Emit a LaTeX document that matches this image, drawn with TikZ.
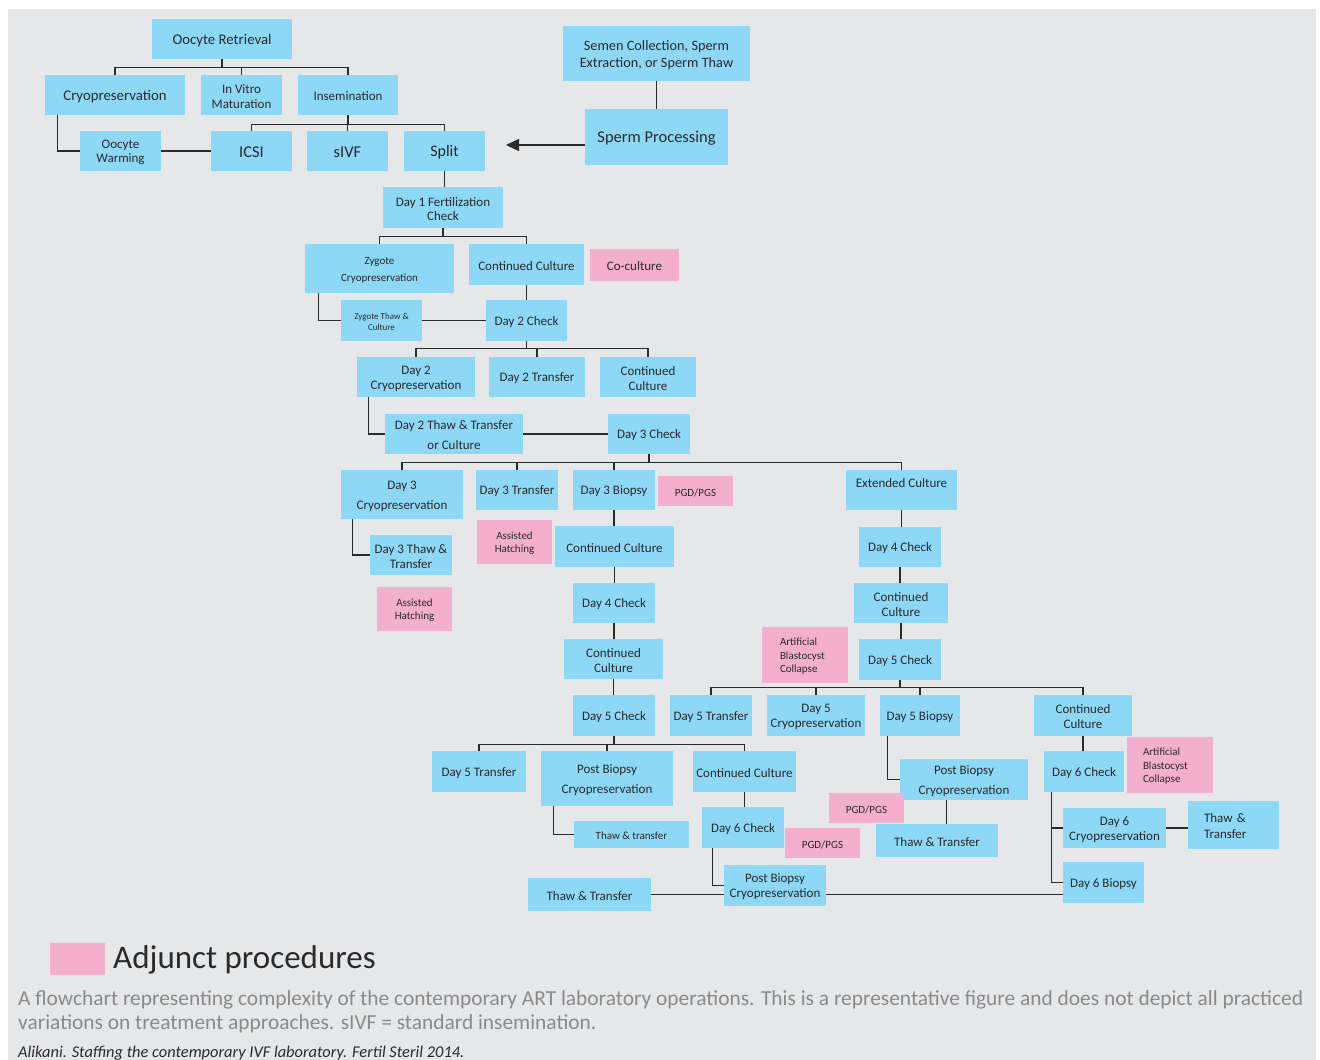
\documentclass[tikz,border=0pt]{standalone}
\usepackage{fontspec}
\setmainfont{Carlito}
\usetikzlibrary{calc,arrows.meta}
\definecolor{cblue}{HTML}{8DD7F7}
\definecolor{cpink}{HTML}{F4AECE}
\definecolor{cbg}{HTML}{E6E7E9}
\definecolor{cline}{HTML}{2B2B2B}
\definecolor{ctext}{HTML}{2A2A2A}
\definecolor{ccap}{HTML}{8A8A8A}
\newcommand\fs[2]{\fontsize{#1}{#2}\selectfont}
% #1 box style, #2 text options, #3 name, #4..#7 = x1,y1,x2,y2, #8 text
\newcommand\bx[8]{%
 \node[#1, minimum width={(#6-#4)*1pt}, minimum height={(#7-#5)*1pt}] (#3) at ({(#4+#6)/2},{(#5+#7)/2}) {};
 \node[btext, #2] (#3-t) at ({(#4+#6)/2},{(#5+#7)/2+1.5}) {#8};}
\tikzset{
 box/.style={fill=cblue, inner sep=0pt},
 pbox/.style={fill=cpink, inner sep=0pt},
 btext/.style={inner sep=0pt, align=center, text=ctext, font=\fs{13}{15}},
 small/.style={font=\fs{11}{13}},
 conn/.style={draw=cline, line width=1.3pt},
}
\begin{document}
\begin{tikzpicture}[x=1pt,y=-1pt]
\useasboundingbox (0,0) rectangle (1320,1060);
\fill[cbg] (8,9) rectangle (1316,1060);
% process boxes
\bx{box}{font=\fs{14.8}{17}}{ore}{152}{19}{292}{59}{Oocyte Retrieval}
\bx{box}{font=\fs{14.8}{17}}{cryo}{45}{75}{185}{115}{Cryopreservation}
\bx{box}{font=\fs{13}{14.5}}{ivm}{201}{75}{282}{115}{In Vitro\\Maturation}
\bx{box}{}{ins}{298}{75}{398}{115}{Insemination}
\bx{box}{font=\fs{13}{14.5}}{ow}{80}{131}{161}{171}{Oocyte\\Warming}
\bx{box}{font=\fs{16.5}{18}}{icsi}{211}{131}{292}{171}{ICSI}
\bx{box}{font=\fs{16.5}{18}}{sivf}{307}{131}{388}{171}{sIVF}
\bx{box}{font=\fs{16}{18}}{split}{404}{131}{485}{171}{Split}
\bx{box}{font=\fs{14.3}{16.5}}{semen}{563}{26}{750}{81}{Semen Collection, Sperm\\Extraction, or Sperm Thaw}
\bx{box}{font=\fs{16.5}{18}}{sp}{585}{109}{728}{165}{Sperm Processing}
\bx{box}{font=\fs{13}{14.5}}{d1}{383}{187}{503}{228}{Day 1 Fertilization\\Check}
\bx{box}{font=\fs{11}{17}}{zc}{305}{244}{454}{293}{Zygote\\Cryopreservation}
\bx{box}{}{cc1}{469}{244}{584}{285}{Continued Culture}
\bx{box}{font=\fs{9}{10.5}}{zt}{341}{300}{422}{341}{Zygote Thaw \&\\Culture}
\bx{box}{}{d2c}{486}{300}{567}{341}{Day 2 Check}
\bx{box}{}{d2cryo}{357}{357}{475}{397}{Day 2\\Cryopreservation}
\bx{box}{}{d2t}{489}{357}{585}{397}{Day 2 Transfer}
\bx{box}{}{cc2}{600}{357}{696}{397}{Continued\\Culture}
\bx{box}{font=\fs{13}{20}}{d2tt}{385}{414}{523}{454}{Day 2 Thaw \& Transfer\\or Culture}
\bx{box}{}{d3c}{608}{414}{690}{454}{Day 3 Check}
\bx{box}{font=\fs{13}{20}}{d3cryo}{341}{470}{463}{519}{Day 3\\Cryopreservation}
\bx{box}{}{d3t}{476}{470}{558}{510}{Day 3 Transfer}
\bx{box}{}{d3b}{573}{470}{655}{510}{Day 3 Biopsy}
\bx{box}{yshift=8.5pt}{ext}{846}{470}{957}{510}{Extended Culture}
\bx{box}{font=\fs{13}{14.5}}{d3tt}{370}{535}{452}{575}{Day 3 Thaw \&\\Transfer}
\bx{box}{}{cc3}{555}{526}{674}{567}{Continued Culture}
\bx{box}{}{d4l}{573}{583}{655}{623}{Day 4 Check}
\bx{box}{}{cc4}{564}{639}{663}{679}{Continued\\Culture}
\bx{box}{}{d5l}{573}{695}{655}{736}{Day 5 Check}
\bx{box}{}{d5tl}{432}{751}{526}{792}{Day 5 Transfer}
\bx{box}{font=\fs{13}{20}}{pbcl}{541}{751}{673}{806}{Post Biopsy\\Cryopreservation}
\bx{box}{}{cc5}{693}{751}{796}{792}{Continued Culture}
\bx{box}{small}{ttl}{574}{821}{689}{848}{Thaw \& transfer}
\bx{box}{}{d6cm}{702}{807}{784}{848}{Day 6 Check}
\bx{box}{}{pbcm}{724}{865}{826}{906}{Post Biopsy\\Cryopreservation}
\bx{box}{}{ttb}{528}{878}{651}{911}{Thaw \& Transfer}
\bx{box}{}{d4r}{859}{527}{941}{567}{Day 4 Check}
\bx{box}{}{ccr}{854}{583}{948}{623}{Continued\\Culture}
\bx{box}{}{d5r}{859}{639}{941}{680}{Day 5 Check}
\bx{box}{}{d5tr}{670}{695}{752}{736}{Day 5 Transfer}
\bx{box}{}{d5cryo}{767}{695}{865}{736}{Day 5\\Cryopreservation}
\bx{box}{}{d5b}{880}{695}{960}{736}{Day 5 Biopsy}
\bx{box}{}{ccr2}{1034}{695}{1132}{736}{Continued\\Culture}
\bx{box}{font=\fs{13}{20}}{pbcr}{900}{759}{1028}{800}{Post Biopsy\\Cryopreservation}
\bx{box}{}{ttm}{876}{824}{998}{857}{Thaw \& Transfer}
\bx{box}{}{d6cr}{1044}{751}{1124}{792}{Day 6 Check}
\bx{box}{}{d6cryo}{1063}{808}{1166}{848}{Day 6\\Cryopreservation}
\bx{box}{font=\fs{13}{16},text width=59pt,align=left}{ttr}{1188}{801}{1279}{849}{Thaw \&\\Transfer}
\bx{box}{}{d6b}{1063}{862}{1144}{903}{Day 6 Biopsy}
% adjunct procedures (pink)
\bx{pbox}{}{cocult}{590}{249}{679}{281}{Co-culture}
\bx{pbox}{small}{pgd1}{658}{476}{733}{506}{PGD/PGS}
\bx{pbox}{small}{ah1}{477}{520}{552}{564}{Assisted\\Hatching}
\bx{pbox}{small}{ah2}{377}{587}{452}{631}{Assisted\\Hatching}
\bx{pbox}{font=\fs{11}{13.5},text width=50pt,align=left}{abc1}{762}{627}{848}{683}{Artificial\\Blastocyst\\Collapse}
\bx{pbox}{small}{pgd2}{785}{828}{860}{858}{PGD/PGS}
\bx{pbox}{small}{pgd3}{829}{793}{904}{823}{PGD/PGS}
\bx{pbox}{font=\fs{11}{13.5},text width=54pt,align=left}{abc2}{1127}{737}{1213}{793}{Artificial\\Blastocyst\\Collapse}
% connectors
\draw[conn] (ore.south) -- ++(0,8) -| (cryo.north);
\draw[conn] (ore.south) -- ++(0,8) -| (ivm.north);
\draw[conn] (ore.south) -- ++(0,8) -| (ins.north);
\draw[conn] (ins.south) -- ++(0,9) -| (icsi.north);
\draw[conn] (ins.south) -- ++(0,9) -| (sivf.north);
\draw[conn] (ins.south) -- ++(0,9) -| (split.north);
\coordinate (k1) at ($(cryo.south west)+(13,0)$);
\draw[conn] (k1) |- (ow.west);
\draw[conn] (ow.east) -- (icsi.west);
\draw[conn] (semen.south) -- (sp.north);
\coordinate (arr) at (506,145);
\draw[conn,-{Triangle[length=13pt,width=12pt]}] (sp.west |- arr) -- (arr);
\draw[conn] (split.south) -- (split.south |- d1.north);
\draw[conn] (d1.south) -- ++(0,8) -| (zc.north);
\draw[conn] (d1.south) -- ++(0,8) -| (cc1.north);
\coordinate (k2) at ($(zc.south west)+(14,0)$);
\draw[conn] (k2) |- (zt.west);
\draw[conn] (zt.east) -- (zt.east -| d2c.west);
\draw[conn] (cc1.south) -- (cc1.south |- d2c.north);
\draw[conn] (d2c.south) -- ++(0,7) -| (d2cryo.north);
\draw[conn] (d2c.south) -- ++(0,7) -| (d2t.north);
\draw[conn] (d2c.south) -- ++(0,7) -| (cc2.north);
\coordinate (k3) at ($(d2cryo.south west)+(12,0)$);
\draw[conn] (k3) |- (d2tt.west);
\draw[conn] (d2tt.east) -- (d2tt.east -| d3c.west);
\draw[conn] (d3c.south) -- ++(0,8) -| (d3cryo.north);
\draw[conn] (d3c.south) -- ++(0,8) -| (d3t.north);
\draw[conn] (d3c.south) -- ++(0,8) -| (d3b.north);
\draw[conn] (d3c.south) -- ++(0,8) -| (ext.north);
\coordinate (k4) at ($(d3cryo.south west)+(12,0)$);
\draw[conn] (k4) |- (d3tt.west);
\draw[conn] (d3b.south) -- (d3b.south |- cc3.north);
\draw[conn] (cc3.south) -- (cc3.south |- d4l.north);
\draw[conn] (d4l.south) -- (d4l.south |- cc4.north);
\draw[conn] (cc4.south) -- (cc4.south |- d5l.north);
\draw[conn] (d5l.south) -- ++(0,8) -| (d5tl.north);
\draw[conn] (d5l.south) -- ++(0,8) -| (pbcl.north);
\draw[conn] (d5l.south) -- ++(0,8) -| (cc5.north);
\coordinate (k5) at ($(pbcl.south west)+(13,0)$);
\draw[conn] (k5) |- (ttl.west);
\draw[conn] (cc5.south) -- (cc5.south |- d6cm.north);
\coordinate (k6) at ($(d6cm.south west)+(11,0)$);
\draw[conn] (k6) |- (pbcm.west);
\draw[conn] (ttb.east) -- (ttb.east -| pbcm.west);
\draw[conn] (pbcm.east |- ttb.east) -- (ttb.east -| d6b.west);
\draw[conn] (ext.south) -- (ext.south |- d4r.north);
\draw[conn] (d4r.south) -- (d4r.south |- ccr.north);
\draw[conn] (ccr.south) -- (ccr.south |- d5r.north);
\draw[conn] (d5r.south) -- ++(0,7) -| (d5tr.north);
\draw[conn] (d5r.south) -- ++(0,7) -| (d5cryo.north);
\draw[conn] (d5r.south) -- ++(0,7) -| (d5b.north);
\draw[conn] (d5r.south) -- ++(0,7) -| (ccr2.north);
\coordinate (k7) at ($(d5b.south west)+(8,0)$);
\draw[conn] (k7) |- (pbcr.west);
\coordinate (k8) at ($(pbcr.south west)+(47,0)$);
\draw[conn] (k8) -- (k8 |- ttm.north);
\draw[conn] (ccr2.south) -- (ccr2.south |- d6cr.north);
\coordinate (k9) at ($(d6cr.south west)+(8,0)$);
\draw[conn] (k9) |- (d6cryo.west);
\draw[conn] (k9) |- (d6b.west);
\draw[conn] (d6cryo.east) -- (d6cryo.east -| ttr.west);
% legend and caption
\node[fill=cpink, minimum width=55pt, minimum height=32pt, inner sep=0pt] (leg) at (77.5,959) {};
\node[anchor=base west, inner sep=0pt, text=ctext, font=\fs{33}{36}] (legtext) at (113,968) {Adjunct procedures};
\node[anchor=base west, inner sep=0pt, text=ccap, font=\fs{21.4}{24}] (cap1) at (18,1005) {A flowchart representing complexity of the contemporary ART laboratory operations. This is a representative figure and does not depict all practiced};
\node[anchor=base west, inner sep=0pt, text=ccap, font=\fs{21.4}{24}] (cap2) at (18,1029) {variations on treatment approaches. sIVF = standard insemination.};
\node[anchor=base west, inner sep=0pt, text=ctext, font=\fs{16.4}{18}\itshape] (cite) at (18,1057) {Alikani. Staffing the contemporary IVF laboratory. Fertil Steril 2014.};
\end{tikzpicture}
\end{document}
